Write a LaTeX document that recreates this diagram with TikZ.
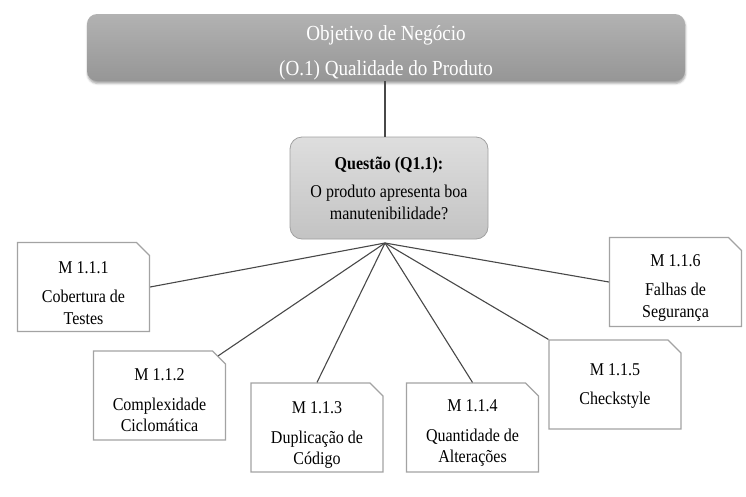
\documentclass[tikz,border=0pt]{standalone}
\usepackage{fontspec}
\setmainfont{Liberation Serif}[FakeStretch=0.89]
\usetikzlibrary{shapes.misc,shadows.blur}

\definecolor{objtop}{HTML}{B2B2B2}
\definecolor{objbot}{HTML}{969696}
\definecolor{qtop}{HTML}{DEDEDE}
\definecolor{qbot}{HTML}{C3C3C3}
\definecolor{qline}{HTML}{A0A0A0}
\definecolor{mline}{HTML}{A3A3A3}
\definecolor{linkgray}{HTML}{484848}

% lines of a box, first baseline #1 above the centre
\newcommand{\boxlines}[2]{\raisebox{#1}[0pt][0pt]{\begin{tabular}[t]{@{}c@{}}#2\end{tabular}}}

\begin{document}
\begin{tikzpicture}[x=1pt, y=-1pt,
    objbox/.style={rectangle, rounded corners=10pt, top color=objtop, bottom color=objbot,
      minimum width=598pt, minimum height=67pt, text=white,
      font=\fontsize{21.5}{24}\selectfont,
      blur shadow={shadow xshift=0.5pt, shadow yshift=-2.5pt, shadow blur radius=2pt, shadow opacity=35}},
    qbox/.style={rectangle, rounded corners=12pt, draw=qline, line width=0.8pt,
      top color=qtop, bottom color=qbot, minimum width=198pt, minimum height=102pt,
      align=center, font=\fontsize{18}{22}\selectfont},
    mbox/.style={chamfered rectangle, chamfered rectangle corners=north east,
      chamfered rectangle xsep=14pt, chamfered rectangle ysep=13pt,
      draw=mline, line width=1.2pt, fill=white, inner sep=0pt,
      minimum width=132pt, minimum height=89pt,
      font=\fontsize{18}{21.5}\selectfont},
    link/.style={draw=linkgray, line width=1.1pt}]
  \useasboundingbox (0,0) rectangle (746,496);

  % objetivo e questao
  \node [objbox] (obj) at (386,47.5) {\boxlines{7.5pt}{Objetivo de Negócio\\[11pt](O.1) Qualidade do Produto}};
  \node [qbox] (q) at (389,188) {\textbf{Questão (Q1.1):}\\[6pt]O produto apresenta boa\\manutenibilidade?};
  \coordinate (hub) at (385,243);

  % metricas
  \node [mbox] (m1) at (83.5,287) {\boxlines{14pt}{M 1.1.1\\[8pt]Cobertura de\\Testes}};
  \node [mbox] (m2) at (159.5,395.5) {\boxlines{15pt}{M 1.1.2\\[8pt]Complexidade\\Ciclomática}};
  \node [mbox] (m3) at (317,427.5) {\boxlines{14pt}{M 1.1.3\\[8pt]Duplicação de\\Código}};
  \node [mbox] (m4) at (472.5,427.5) {\boxlines{16pt}{M 1.1.4\\[8pt]Quantidade de\\Alterações}};
  \node [mbox] (m5) at (615,384.5) {\boxlines{9.5pt}{M 1.1.5\\[8pt]Checkstyle}};
  \node [mbox] (m6) at (675.5,282) {\boxlines{16pt}{M 1.1.6\\[8pt]Falhas de\\Segurança}};

  % ligacoes
  \draw [link] (obj.south -| hub) -- (q.north -| hub);
  \draw [link] (hub) -- (m1.east);
  \draw [link] (hub) -- (m2);
  \draw [link] (hub) -- (m3.north);
  \draw [link] (hub) -- (m4.north);
  \draw [link] (hub) -- (m5.west |- m5.north);
  \draw [link] (hub) -- (m6.west);
\end{tikzpicture}
\end{document}
